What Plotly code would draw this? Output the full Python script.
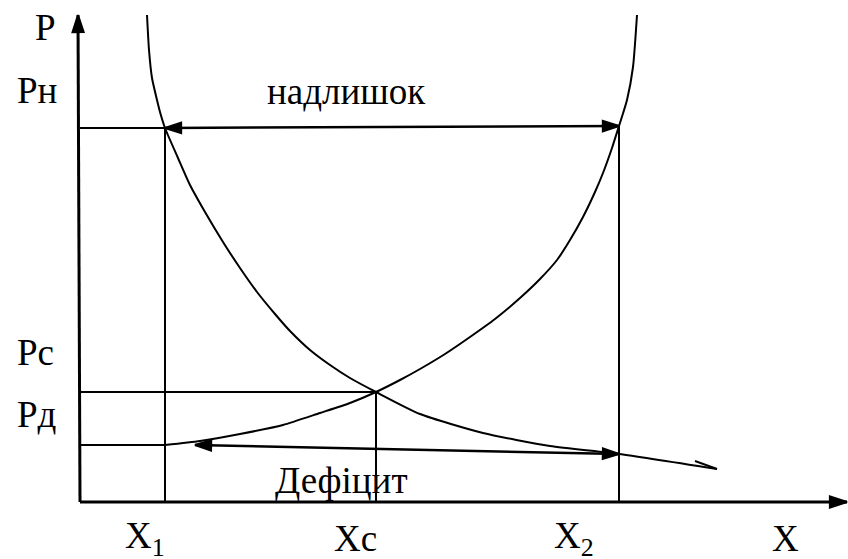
import plotly.graph_objects as go

# ---- values (origin = corner of the axes) ----
X1, XC, X2 = 85, 296, 539          # quantities X1, Xc, X2
P_H, P_C, P_D = 374, 110, 57       # prices Pн, Pс, Pд
P_H_AT_X2 = 376                    # supply price at X2 (surplus arrow end)
P_D_AT_X2 = 48                     # demand price at X2 (deficit arrow end)
DEFICIT_ARROW_START = 115          # left end of the deficit arrow

demand_x = [67, 69, 72, 77, 80, 85, 98, 110, 125, 143, 160, 177, 195, 210, 230, 250, 270,
            296, 340, 403, 470, 539, 637]
demand_y = [487, 452, 424, 402, 390, 374, 344, 317, 290, 260, 234, 210, 188, 171, 152, 137, 124,
            110, 88, 69, 56, 48, 33]
demand_tail_x = [637, 615]
demand_tail_y = [33, 41]

supply_x = [85, 120, 160, 203, 240, 270, 296, 320, 340, 365, 390, 415, 440, 460, 477, 490,
            503, 515, 523, 532, 539, 547, 553, 557]
supply_y = [57, 61, 68, 77, 89, 99, 110, 122, 133, 148, 165, 183, 204, 223, 242, 262,
            285, 310, 329, 354, 376, 402, 435, 487]

AXIS_X_END = 767
AXIS_Y_END = 487
AXIS_Y_TOP_X = -2

price_labels = ["P", "Pн", "Pс", "Pд"]
quantity_labels = ["X<sub>1</sub>", "Xc", "X<sub>2</sub>", "X"]
surplus_label = "надлишок"
deficit_label = "Дефіцит"

FONT = dict(family="Liberation Serif", size=37, color="black")
LW = 2

fig = go.Figure()


def line(xs, ys, width=LW, shape="linear"):
    fig.add_trace(go.Scatter(x=xs, y=ys, mode="lines",
                             line=dict(color="black", width=width, shape=shape, smoothing=0.6),
                             hoverinfo="skip", showlegend=False))


def head(x_from, y_from, x_to, y_to, size):
    # filled arrow head whose tip sits at (x_to, y_to), pointing away from (x_from, y_from)
    fig.add_trace(go.Scatter(x=[x_from, x_to], y=[y_from, y_to], mode="markers",
                             marker=dict(symbol="arrow", size=[1, size], angleref="previous",
                                         opacity=[0, 1], color="black",
                                         line=dict(color="black", width=2)),
                             hoverinfo="skip", showlegend=False))


# curves
line(demand_x, demand_y, shape="spline")
line(demand_tail_x, demand_tail_y)
line(supply_x, supply_y, shape="spline")

# guide lines
line([0, X1], [P_H, P_H])
line([X1, X1], [P_H, 0])
line([X2, X2], [P_H_AT_X2, 0])
line([0, XC], [P_C, P_C])
line([XC, XC], [P_C, 0])
line([0, X1], [P_D, P_D])

# axes with arrows
line([0, AXIS_Y_TOP_X], [0, AXIS_Y_END], width=3)
head(0, 0, AXIS_Y_TOP_X, AXIS_Y_END, 18)
line([0, AXIS_X_END], [0, 0], width=3)
head(0, 0, AXIS_X_END, 0, 18)

# surplus arrow (double headed)
line([X1, X2], [P_H, P_H_AT_X2], width=2.5)
head(X1, P_H, X2, P_H_AT_X2, 17)
head(X2, P_H_AT_X2, X1, P_H, 17)

# deficit arrow (double headed)
line([DEFICIT_ARROW_START, X2], [P_D, P_D_AT_X2], width=2.5)
head(DEFICIT_ARROW_START, P_D, X2, P_D_AT_X2, 17)
head(X2, P_D_AT_X2, DEFICIT_ARROW_START, P_D, 17)

ann = []
# price labels
price_y = [475, P_H + 38, P_C + 40, P_D + 31]
price_x = [-47, -65, -65, -65]
for t, xx, yy in zip(price_labels, price_x, price_y):
    ann.append(dict(x=xx, y=yy, xref="x", yref="y", text=t, showarrow=False,
                    xanchor="left", yanchor="middle", font=FONT))

# quantity labels
qx = [X1 - 20, XC - 21, X2 - 45, 705]
for t, xx in zip(quantity_labels, qx):
    ann.append(dict(x=xx, y=-36, xref="x", yref="y", text=t, showarrow=False,
                    xanchor="center", yanchor="middle", font=FONT))

ann.append(dict(x=266, y=P_H + 37, xref="x", yref="y", text=surplus_label, showarrow=False,
                xanchor="center", yanchor="middle", font=FONT))
ann.append(dict(x=261, y=22, xref="x", yref="y", text=deficit_label, showarrow=False,
                xanchor="center", yanchor="middle", font=FONT))

fig.update_layout(
    width=848, height=559,
    margin=dict(l=0, r=0, t=0, b=0),
    paper_bgcolor="white", plot_bgcolor="white",
    xaxis=dict(range=[-80, 768], visible=False, fixedrange=True),
    yaxis=dict(range=[-57, 502], visible=False, fixedrange=True),
    annotations=ann,
    showlegend=False,
)

fig.write_html("out.html", config={"displayModeBar": False},
               post_script="document.body.style.margin='0';")
